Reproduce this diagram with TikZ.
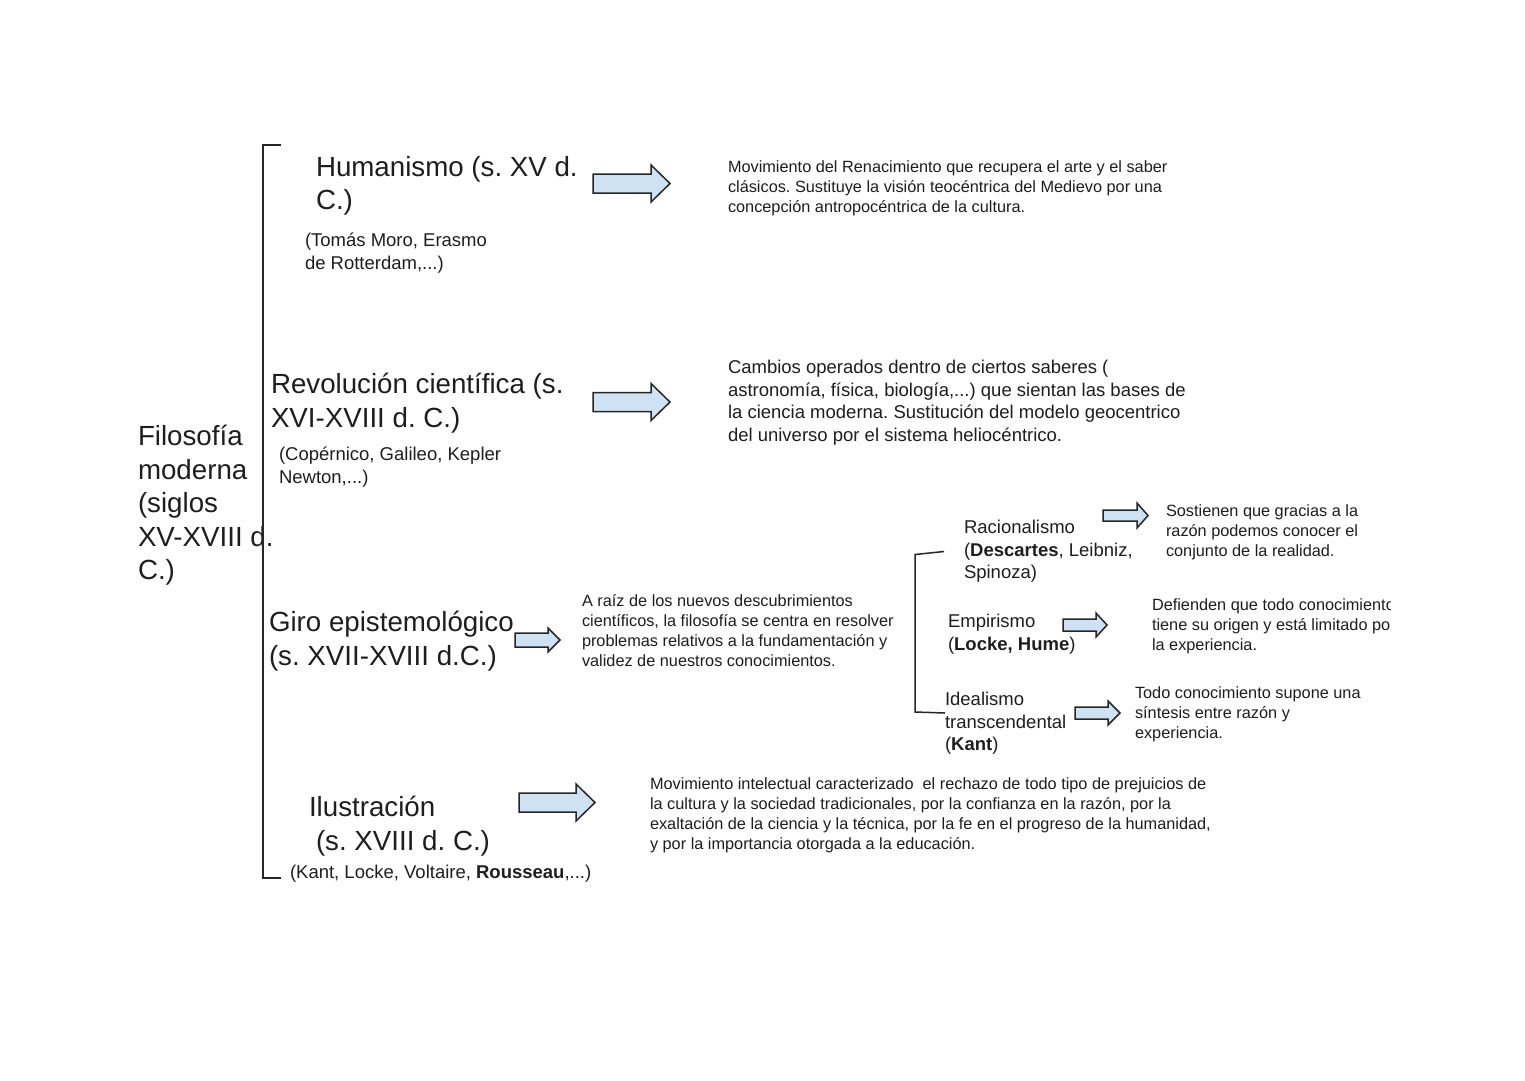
\documentclass[tikz,border=0pt]{standalone}
\usepackage{fontspec}
\setmainfont{Liberation Sans}
\frenchspacing
\definecolor{txt}{HTML}{1E1E1E}
\definecolor{linec}{HTML}{262626}
\definecolor{arrowfill}{HTML}{CFE2F3}
\newcommand{\blockarr}[6]{% x0, xhead, xtip, yc, body half, head half
  \draw[blockarrow] ({#1},{#4-#5}) -- ({#2},{#4-#5}) -- ({#2},{#4-#6}) -- ({#3},{#4})
    -- ({#2},{#4+#6}) -- ({#2},{#4+#5}) -- ({#1},{#4+#5}) -- cycle;}
\begin{document}
\begin{tikzpicture}[x=1pt,y=-1pt,
  every node/.style={inner sep=0pt, outer sep=0pt, anchor=base west, align=left, text=txt},
  big/.style={font=\fontsize{27.7}{33.5}\selectfont},
  mid/.style={font=\fontsize{18.5}{22.6}\selectfont},
  small/.style={font=\fontsize{16.3}{19.9}\selectfont},
  bracket/.style={draw=linec, line width=1.8pt},
  blockarrow/.style={draw=linec, fill=arrowfill, line width=1.5pt, line join=miter}
]
\fill[white] (0,0) rectangle (1525,1080);
\useasboundingbox (0,0) rectangle (1525,1080);

% (node positions: baseline of the last line)
% main title
\node[big] (filo) at (138,579.5) {Filosofía\\moderna\\(siglos\\XV-XVIII d.\\C.)};

% main bracket
\coordinate (btop) at (281,145);
\coordinate (bbot) at (281,878);
\draw[bracket] (btop) -- (263,145) -- (263,878) -- (bbot);

% Humanismo
\node[big] (hum) at (316,209.5) {Humanismo (s. XV d.\\C.)};
\node[mid] (humaut) at (305,269.3) {(Tomás Moro, Erasmo\\de Rotterdam,...)};
\blockarr{593}{651}{670}{183.5}{9.5}{18.5}
\node[small] (humdesc) at (728,212.5) {Movimiento del Renacimiento que recupera el arte y el saber\\clásicos. Sustituye la visión teocéntrica del Medievo por una\\concepción antropocéntrica de la cultura.};

% Revolucion
\node[big] (rev) at (271,427) {Revolución científica (s.\\XVI-XVIII d. C.)};
\node[mid] (revaut) at (279,483.1) {(Copérnico, Galileo, Kepler\\Newton,...)};
\blockarr{593}{651}{670}{402}{9.5}{18.5}
\node[mid] (revdesc) at (728,441.3) {Cambios operados dentro de ciertos saberes (\\astronomía, física, biología,...) que sientan las bases de\\la ciencia moderna. Sustitución del modelo geocentrico\\del universo por el sistema heliocéntrico.};

% Giro
\node[big] (giro) at (269,665) {Giro epistemológico\\(s. XVII-XVIII d.C.)};
\blockarr{515}{548}{560}{640}{7}{12}
\node[small] (girodesc) at (582,666.4) {A raíz de los nuevos descubrimientos\\científicos, la filosofía se centra en resolver\\problemas relativos a la fundamentación y\\validez de nuestros conocimientos.};

% sub bracket
\coordinate (stop) at (944,551.5);
\coordinate (sbot) at (945,713);
\draw[draw=linec, line width=1.5pt] (stop) -- (915,554.5) -- (915,712) -- (sbot);

\node[mid] (rac) at (964,578.7) {Racionalismo\\(\textbf{Descartes}, Leibniz,\\Spinoza)};
\blockarr{1103}{1137}{1148}{515.5}{5.5}{12.5}
\node[small] (racdesc) at (1166,556.5) {Sostienen que gracias a la\\razón podemos conocer el\\conjunto de la realidad.};

\node[mid] (emp) at (948,650.1) {Empirismo\\(\textbf{Locke, Hume})};
\blockarr{1063}{1096}{1107}{625}{6}{12}
\begin{scope}
\clip (1140,585) rectangle (1390,660);
\node[small] (empdesc) at (1152,650.5) {Defienden que todo conocimiento\\tiene su origen y está limitado por\\la experiencia.};
\end{scope}

\node[mid] (ide) at (945,750.7) {Idealismo\\transcendental\\(\textbf{Kant})};
\blockarr{1075}{1108}{1120}{713}{6}{12}
\node[small] (idedesc) at (1135,738.5) {Todo conocimiento supone una\\síntesis entre razón y\\experiencia.};

% Ilustracion
\node[big] (ilu) at (309,850) {Ilustración\\\hspace*{7pt}(s. XVIII d. C.)};
\node[mid] (iluaut) at (290,878.5) {(Kant, Locke, Voltaire, \textbf{Rousseau},...)};
\blockarr{519}{576}{595}{802.5}{9.5}{18.5}
\node[small] (iludesc) at (650,849.4) {Movimiento intelectual caracterizado\ \ el rechazo de todo tipo de prejuicios de\\la cultura y la sociedad tradicionales, por la confianza en la razón, por la\\exaltación de la ciencia y la técnica, por la fe en el progreso de la humanidad,\\y por la importancia otorgada a la educación.};
\end{tikzpicture}
\end{document}
